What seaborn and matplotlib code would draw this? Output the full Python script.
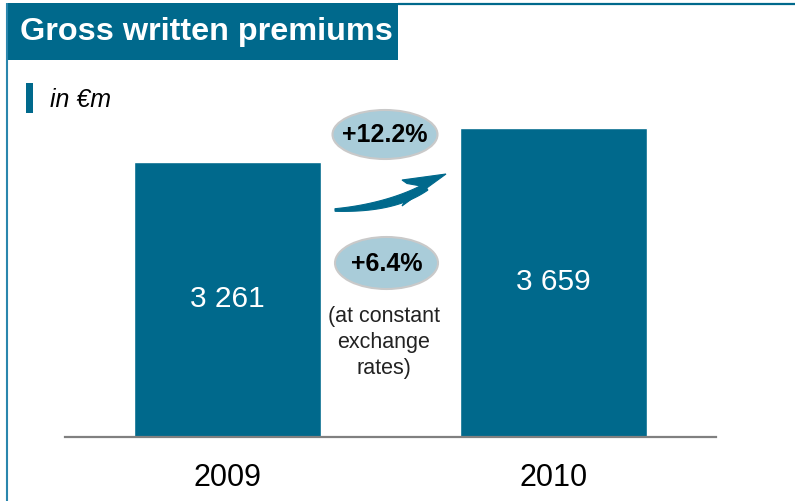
import numpy as np
import pandas as pd
import matplotlib
matplotlib.use("Agg")
import matplotlib.pyplot as plt
from matplotlib.patches import Rectangle, Ellipse, Polygon
import seaborn as sns

# Data
years = ["2009", "2010"]
premiums = [3261, 3659]
growth_reported = "+12.2%"
growth_constant_fx = "+6.4%"
fx_note = "(at constant\nexchange\nrates)"
title = "Gross written premiums"
unit = "in €m"

TEAL = "#00698C"
BUBBLE = "#A9CCD9"

sns.set_theme(style="white")
plt.rcParams["font.family"] = ["Liberation Sans", "DejaVu Sans"]

W, H = 795, 501
fig = plt.figure(figsize=(W / 100, H / 100), dpi=100)

# Bar axes placed in pixel terms: baseline at y=436.5, x from 65 to 716
ax_left, ax_right, ax_bottom, ax_top = 65, 716, 436.5, 60
ax = fig.add_axes([ax_left / W, (H - ax_bottom) / H,
                   (ax_right - ax_left) / W, (ax_bottom - ax_top) / H])

df = pd.DataFrame({"year": years, "premiums": premiums})
sns.barplot(data=df, x="year", y="premiums", color=TEAL, saturation=1,
            width=0.573, ax=ax, zorder=2)

px_per_unit = (436.5 - 162) / premiums[0]
ax.set_ylim(0, (ax_bottom - ax_top) / px_per_unit)
ax.set_xlim(-0.5, 1.5)
ax.set_xlabel("")
ax.set_ylabel("")
ax.set_yticks([])
for s in ["left", "right", "top"]:
    ax.spines[s].set_visible(False)
ax.spines["bottom"].set_color("#808080")
ax.spines["bottom"].set_linewidth(1.6)
ax.spines["bottom"].set_zorder(3)
ax.tick_params(axis="x", length=0, pad=19, labelsize=22, labelcolor="black")
ax.patch.set_alpha(0)

ax.bar_label(ax.containers[0],
             labels=[f"{v:,.0f}".replace(",", " ") for v in premiums],
             label_type="center", color="white", fontsize=21.5)

# Overlay axes in pixel coordinates for the frame and annotations
ov = fig.add_axes([0, 0, 1, 1], zorder=5)
ov.set_xlim(0, W)
ov.set_ylim(H, 0)
ov.axis("off")
ov.patch.set_alpha(0)

# Panel frame and title block
ov.plot([6.5, 6.5], [3, H], color="#2A86AD", lw=1.5, solid_capstyle="butt")
ov.plot([398, W], [4, 4], color=TEAL, lw=1.6, solid_capstyle="butt")
ov.add_patch(Rectangle((6, 3), 392, 57, facecolor=TEAL, edgecolor="none"))
ov.text(20, 32, title, color="white", fontsize=23.3, fontweight="bold",
        ha="left", va="center")

# Unit marker
ov.add_patch(Rectangle((26, 83), 6.5, 30, facecolor=TEAL, edgecolor="none"))
ov.text(50, 100, unit, fontsize=18, fontstyle="italic", color="black",
        ha="left", va="center")

# Growth bubbles
ov.add_patch(Ellipse((385, 134.5), 105, 49, facecolor=BUBBLE,
                     edgecolor="#C9C9C9", lw=1.5))
ov.text(385, 135, growth_reported, fontsize=18, fontweight="bold",
        ha="center", va="center", color="black")
ov.add_patch(Ellipse((386.5, 263), 103, 52, facecolor=BUBBLE,
                     edgecolor="#C9C9C9", lw=1.5))
ov.text(386.5, 264, growth_constant_fx, fontsize=18, fontweight="bold",
        ha="center", va="center", color="black")
ov.text(384, 342.5, fx_note, fontsize=15.5, ha="center", va="center",
        color="#222222", linespacing=1.3)

# Curved swoosh arrow between the bars
t = np.linspace(0, 1, 60)
p0, p1, p2 = np.array([335, 210]), np.array([392, 208]), np.array([426, 187])
curve = ((1 - t)[:, None] ** 2) * p0 + (2 * t * (1 - t))[:, None] * p1 + (t ** 2)[:, None] * p2
d = np.gradient(curve, axis=0)
n = np.stack([-d[:, 1], d[:, 0]], axis=1)
n /= np.linalg.norm(n, axis=1)[:, None]
half = 1.3 + 3.0 * np.sin(np.pi * t * 0.72)
upper = curve + n * half[:, None]
lower = curve - n * half[:, None]
shaft = np.vstack([upper, lower[::-1]])
ov.add_patch(Polygon(shaft, closed=True, facecolor=TEAL, edgecolor=TEAL, lw=0.8))
head = np.array([[446, 174], [402, 180], [407, 183.5], [421, 186],
                 [406, 199], [402, 206]])
ov.add_patch(Polygon(head, closed=True, facecolor=TEAL, edgecolor=TEAL, lw=0.8))

fig.savefig("out.png", dpi=100, facecolor="white")
